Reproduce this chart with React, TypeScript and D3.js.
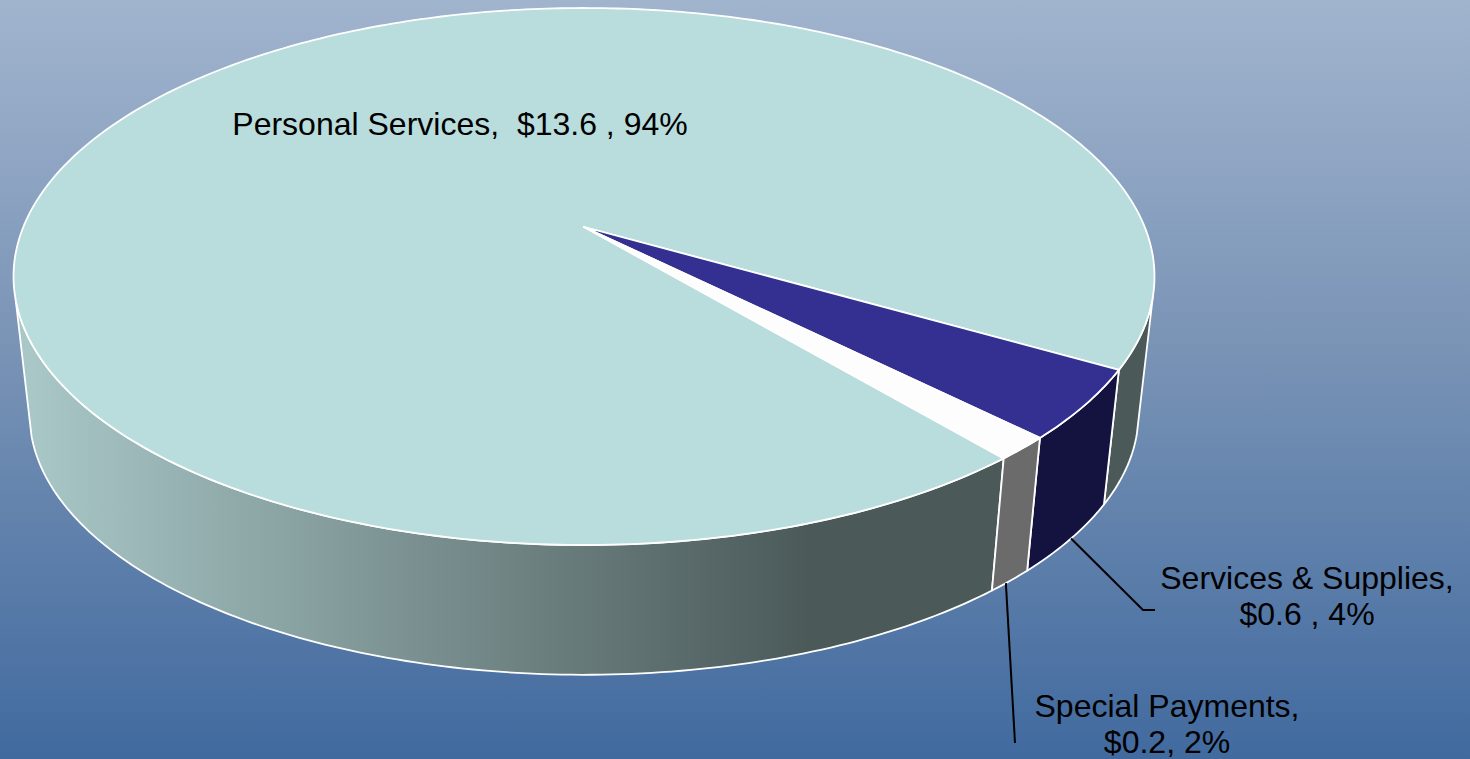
import { useEffect, useRef } from "react";
import * as d3 from "d3";

// budget split, $ millions
const categories = ["Personal Services", "Services & Supplies", "Special Payments"];
const amounts = [13.6, 0.6, 0.2];
const labelLines = [
  ["Personal Services,  $13.6 , 94%"],
  ["Services & Supplies,", "$0.6 , 4%"],
  ["Special Payments,", "$0.2, 2%"],
];

const topColors = ["#b9dcdd", "#343092", "#fdfdfd"];
const sideColors = ["url(#sideShade)", "#14123f", "#6b6b6b"];

const width = 1470;
const height = 759;

// perspective of the disc, fitted to the picture
const cx = 584;
const apexY = 227;
const persp = -0.1844;
const yScale = 217.5;
const xScale = 560.7;
// the lower rim shrinks towards this point
const vanishY = 5180;
const shrink = 0.972;

type Pt = [number, number];

// a is a d3 pie angle: 0 at 12 o'clock, clockwise
function rim(a: number, r = 1): Pt {
  const u = Math.sin(a) * r;
  const v = -Math.cos(a) * r;
  const w = 1 + persp * v;
  return [cx + (xScale * u) / w, (yScale * v + apexY) / w];
}

function lower(p: Pt): Pt {
  return [cx + (p[0] - cx) * shrink, vanishY + (p[1] - vanishY) * shrink];
}

function arcAngles(a0: number, a1: number) {
  const n = Math.max(2, Math.ceil(Math.abs(a1 - a0) / 0.015));
  return d3.range(n + 1).map(i => a0 + ((a1 - a0) * i) / n);
}

export default function App() {
  const ref = useRef<SVGSVGElement | null>(null);

  useEffect(() => {
    if (!ref.current) return;

    const svg = d3.select(ref.current);
    svg.selectAll("*").remove();

    const defs = svg.append("defs");

    const bg = defs.append("linearGradient")
      .attr("id", "bgShade")
      .attr("x1", 0).attr("y1", 0).attr("x2", 0).attr("y2", 1);
    bg.append("stop").attr("offset", 0).attr("stop-color", "#a1b4ce");
    bg.append("stop").attr("offset", 0.45).attr("stop-color", "#7a94b6");
    bg.append("stop").attr("offset", 1).attr("stop-color", "#416a9f");

    const side = defs.append("linearGradient")
      .attr("id", "sideShade")
      .attr("gradientUnits", "userSpaceOnUse")
      .attr("x1", 30).attr("y1", 0).attr("x2", 810).attr("y2", 0);
    side.append("stop").attr("offset", 0).attr("stop-color", "#a9c7c7");
    side.append("stop").attr("offset", 1).attr("stop-color", "#4b5959");

    svg.append("rect")
      .attr("width", width)
      .attr("height", height)
      .attr("fill", "url(#bgShade)");

    const startAngle = (140 * Math.PI) / 180;
    const slices = d3.pie<number>()
      .sort(null)
      .startAngle(startAngle)
      .endAngle(startAngle + 2 * Math.PI)(amounts);

    const line = d3.line();
    const east = Math.PI / 2;
    // the wall's outline leaves the rim about 15 degrees below east and west
    const front0 = east + 0.26;
    const front1 = east + Math.PI - 0.27;

    // -----------------------------
    // side wall, only the part facing us
    // -----------------------------
    const wall = (a0: number, a1: number, fill: string) => {
      const top = arcAngles(a0, a1).map(a => rim(a));
      const pts = top.concat(top.slice().reverse().map(lower));
      svg.append("path")
        .attr("d", line(pts) + "Z")
        .attr("fill", fill)
        .attr("stroke", "#fff")
        .attr("stroke-width", 1.8)
        .attr("stroke-linejoin", "round");
    };

    // personal services wraps past 360 degrees, so its wall comes in two pieces
    const twoPi = 2 * Math.PI;
    wall(front0, slices[0].endAngle - twoPi, sideColors[0]);
    wall(slices[0].startAngle, front1, sideColors[0]);
    wall(slices[1].startAngle - twoPi, slices[1].endAngle - twoPi, sideColors[1]);
    wall(slices[2].startAngle - twoPi, slices[2].endAngle - twoPi, sideColors[2]);

    // -----------------------------
    // top face
    // -----------------------------
    slices.forEach((s, i) => {
      const pts = [rim(0, 0), ...arcAngles(s.startAngle, s.endAngle).map(a => rim(a))];
      svg.append("path")
        .datum(categories[i])
        .attr("d", line(pts) + "Z")
        .attr("fill", topColors[i])
        .attr("stroke", "#fff")
        .attr("stroke-width", 1.8)
        .attr("stroke-linejoin", "round");
    });

    // -----------------------------
    // leader lines
    // -----------------------------
    const leaders: Pt[][] = [
      [lower(rim(d3.interpolate(slices[1].startAngle, slices[1].endAngle)(0.5))), [1143, 610], [1155, 610]],
      [lower(rim(d3.interpolate(slices[2].startAngle, slices[2].endAngle)(0.62))), [1015, 743]],
    ];
    leaders.forEach(pts => {
      svg.append("path")
        .attr("d", line(pts))
        .attr("fill", "none")
        .attr("stroke", "#000")
        .attr("stroke-width", 2);
    });

    // -----------------------------
    // labels
    // -----------------------------
    const labelPos = [
      { x: 460, y: 135, dy: 0 },
      { x: 1307, y: 589, dy: 36 },
      { x: 1167, y: 717, dy: 36 },
    ];
    labelLines.forEach((lines, i) => {
      lines.forEach((t, j) => {
        svg.append("text")
          .attr("x", labelPos[i].x)
          .attr("y", labelPos[i].y + j * labelPos[i].dy)
          .attr("text-anchor", "middle")
          .attr("font-family", "'Liberation Sans', Arial, sans-serif")
          .attr("font-size", 32)
          .attr("fill", "#000")
          .style("white-space", "pre")
          .text(t);
      });
    });
  }, []);

  return (
    <svg
      ref={ref}
      width={width}
      height={height}
      style={{ position: "absolute", left: 0, top: 0, display: "block" }}
    />
  );
}
